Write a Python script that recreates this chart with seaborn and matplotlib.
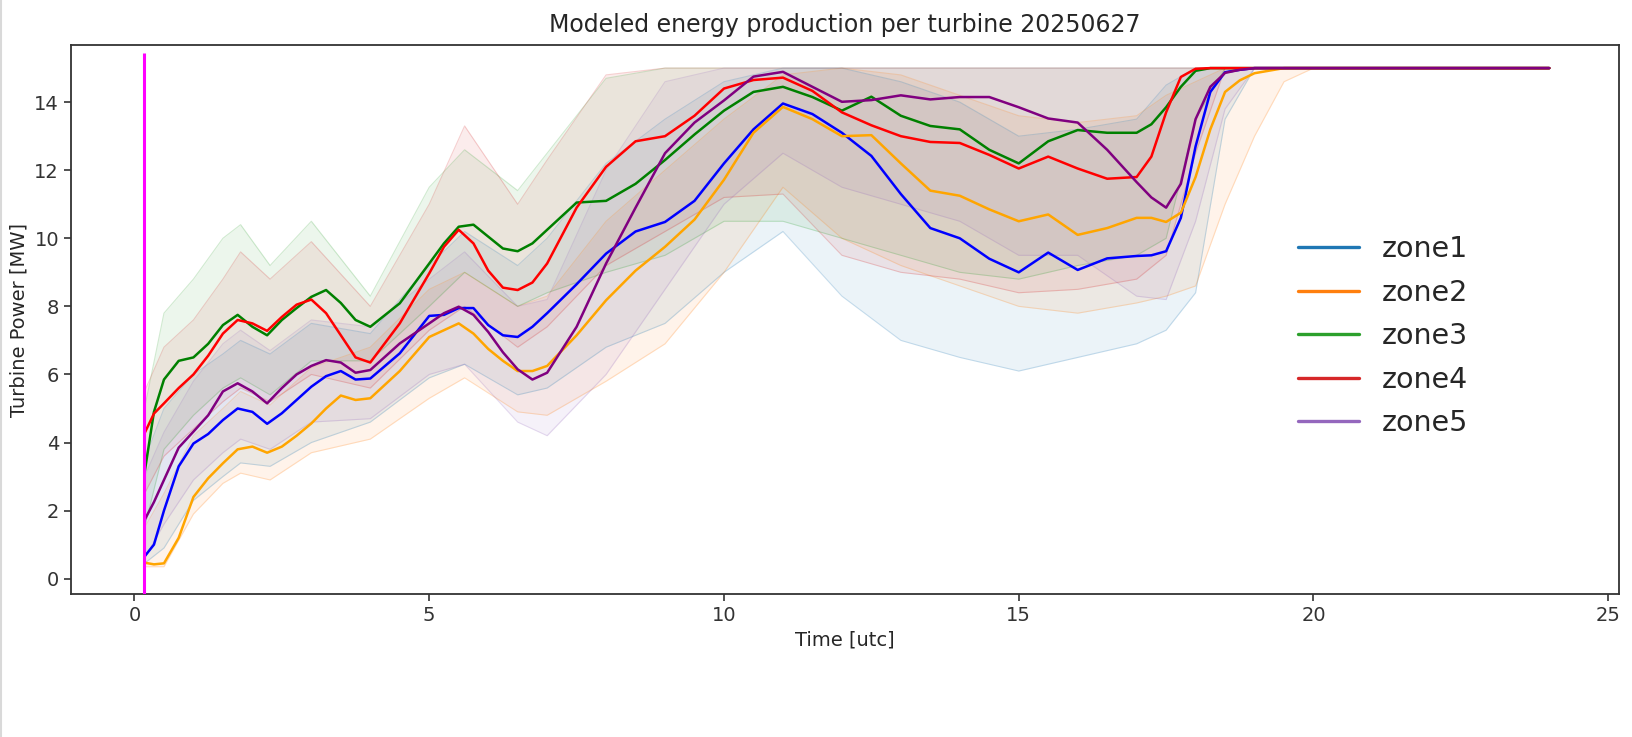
import numpy as np
import pandas as pd
import matplotlib
matplotlib.use("Agg")
import matplotlib.pyplot as plt
from matplotlib.lines import Line2D
import seaborn as sns

# ---- zone mean production [MW] vs time [h utc] ----
time_h = [0.17, 0.33, 0.5, 0.75, 1.0, 1.25, 1.5, 1.75, 2.0, 2.25, 2.5, 2.75,
          3.0, 3.25, 3.5, 3.75, 4.0, 4.5, 5.0, 5.25, 5.5, 5.75, 6.0, 6.25,
          6.5, 6.75, 7.0, 7.5, 8.0, 8.5, 9.0, 9.5, 10.0, 10.5, 11.0, 11.5,
          12.0, 12.5, 13.0, 13.5, 14.0, 14.5, 15.0, 15.5, 16.0, 16.5, 17.0,
          17.25, 17.5, 17.75, 18.0, 18.25, 18.5, 18.75, 19.0, 19.5, 24.0]

zone1_mean = [0.65, 1.0, 2.0, 3.3, 3.97, 4.25, 4.66, 5.0, 4.9, 4.55, 4.86, 5.25,
              5.64, 5.95, 6.1, 5.85, 5.88, 6.62, 7.72, 7.75, 7.95, 7.95, 7.45, 7.15,
              7.1, 7.4, 7.8, 8.65, 9.55, 10.2, 10.48, 11.1, 12.2, 13.2, 13.96, 13.65,
              13.1, 12.42, 11.3, 10.3, 10.0, 9.4, 9.0, 9.58, 9.07, 9.41, 9.48,
              9.5, 9.62, 10.6, 12.7, 14.3, 14.88, 14.95, 15.0, 15.0, 15.0]

zone2_mean = [0.47, 0.42, 0.45, 1.2, 2.4, 2.95, 3.39, 3.8, 3.88, 3.7, 3.88, 4.2,
              4.56, 5.0, 5.38, 5.25, 5.3, 6.1, 7.1, 7.3, 7.5, 7.2, 6.75, 6.4,
              6.1, 6.1, 6.25, 7.15, 8.18, 9.05, 9.75, 10.55, 11.72, 13.1, 13.86, 13.5,
              13.0, 13.03, 12.2, 11.4, 11.25, 10.85, 10.5, 10.7, 10.1, 10.3, 10.6,
              10.6, 10.48, 10.75, 11.8, 13.2, 14.3, 14.64, 14.85, 15.0, 15.0]

zone3_mean = [3.1, 4.9, 5.85, 6.4, 6.5, 6.9, 7.45, 7.75, 7.4, 7.15, 7.6, 7.95,
              8.28, 8.48, 8.1, 7.6, 7.4, 8.09, 9.26, 9.85, 10.34, 10.4, 10.05, 9.7,
              9.62, 9.85, 10.25, 11.05, 11.1, 11.6, 12.3, 13.05, 13.75, 14.3, 14.45, 14.15,
              13.75, 14.16, 13.6, 13.3, 13.2, 12.6, 12.2, 12.85, 13.18, 13.1, 13.1,
              13.35, 13.85, 14.45, 14.92, 15.0, 15.0, 15.0, 15.0, 15.0, 15.0]

zone4_mean = [4.27, 4.85, 5.15, 5.6, 6.0, 6.55, 7.2, 7.6, 7.5, 7.28, 7.69, 8.05,
              8.2, 7.8, 7.15, 6.5, 6.35, 7.5, 8.97, 9.75, 10.25, 9.85, 9.05, 8.55,
              8.48, 8.7, 9.26, 10.9, 12.1, 12.85, 13.0, 13.6, 14.4, 14.65, 14.72, 14.33,
              13.7, 13.32, 13.0, 12.83, 12.8, 12.45, 12.05, 12.4, 12.05, 11.75, 11.8,
              12.4, 13.7, 14.74, 14.98, 15.0, 15.0, 15.0, 15.0, 15.0, 15.0]

zone5_mean = [1.72, 2.25, 2.9, 3.85, 4.32, 4.8, 5.5, 5.74, 5.5, 5.15, 5.6, 6.0,
              6.25, 6.42, 6.35, 6.05, 6.13, 6.91, 7.5, 7.8, 7.99, 7.75, 7.25, 6.65,
              6.15, 5.85, 6.05, 7.4, 9.26, 10.9, 12.5, 13.4, 14.05, 14.75, 14.89, 14.45,
              14.01, 14.06, 14.2, 14.08, 14.15, 14.15, 13.85, 13.52, 13.4, 12.6, 11.65,
              11.2, 10.9, 11.6, 13.5, 14.45, 14.86, 14.95, 15.0, 15.0, 15.0]

# ---- spread of the individual turbines in each zone (min / max) ----
band_time_h = [0.17, 0.5, 1.0, 1.5, 1.8, 2.3, 3.0, 4.0, 5.0, 5.6, 6.5, 7.0, 8.0,
               9.0, 10.0, 11.0, 12.0, 13.0, 14.0, 15.0, 16.0, 17.0, 17.5, 18.0,
               18.5, 19.0, 19.5, 20.0, 24.0]

zone1_lo = [0.45, 0.9, 2.3, 3.0, 3.4, 3.3, 4.0, 4.6, 5.9, 6.3, 5.4, 5.6, 6.8,
            7.5, 9.0, 10.2, 8.3, 7.0, 6.5, 6.1, 6.5, 6.9, 7.3, 8.4,
            13.5, 15.0, 15.0, 15.0, 15.0]
zone1_hi = [3.5, 5.0, 6.0, 6.6, 7.0, 6.6, 7.5, 7.2, 9.2, 10.2, 9.2, 10.0, 12.2,
            13.5, 14.6, 15.0, 15.0, 14.6, 14.0, 13.0, 13.2, 13.5, 14.5, 15.0,
            15.0, 15.0, 15.0, 15.0, 15.0]

zone2_lo = [0.35, 0.35, 1.9, 2.8, 3.1, 2.9, 3.7, 4.1, 5.3, 5.9, 4.9, 4.8, 5.8,
            6.9, 9.0, 11.5, 10.0, 9.2, 8.6, 8.0, 7.8, 8.1, 8.3, 8.6,
            11.0, 13.0, 14.6, 15.0, 15.0]
zone2_hi = [1.5, 2.5, 4.2, 5.0, 5.5, 5.1, 6.2, 6.8, 8.5, 9.0, 8.0, 8.3, 10.5,
            12.0, 13.5, 14.8, 15.0, 14.8, 14.2, 13.6, 13.4, 13.6, 14.2, 14.6,
            15.0, 15.0, 15.0, 15.0, 15.0]

zone3_lo = [1.5, 3.8, 4.8, 5.6, 5.9, 5.4, 6.4, 6.4, 8.0, 9.0, 8.0, 8.4, 9.0,
            9.5, 10.5, 10.5, 10.0, 9.5, 9.0, 8.8, 9.2, 9.5, 10.0, 13.5,
            15.0, 15.0, 15.0, 15.0, 15.0]
zone3_hi = [5.0, 7.8, 8.8, 10.0, 10.4, 9.2, 10.5, 8.3, 11.5, 12.6, 11.4, 12.5, 14.7,
            15.0, 15.0, 15.0, 15.0, 15.0, 15.0, 15.0, 15.0, 15.0, 15.0, 15.0,
            15.0, 15.0, 15.0, 15.0, 15.0]

zone4_lo = [2.5, 3.6, 4.4, 5.2, 5.6, 5.2, 6.0, 5.6, 7.3, 8.0, 6.8, 7.4, 9.2,
            10.2, 11.2, 11.3, 9.5, 9.0, 8.8, 8.4, 8.5, 8.8, 9.5, 12.5,
            15.0, 15.0, 15.0, 15.0, 15.0]
zone4_hi = [5.5, 6.8, 7.6, 8.8, 9.6, 8.8, 9.9, 8.0, 11.0, 13.3, 11.0, 12.3, 14.8,
            15.0, 15.0, 15.0, 15.0, 15.0, 15.0, 15.0, 15.0, 15.0, 15.0, 15.0,
            15.0, 15.0, 15.0, 15.0, 15.0]

zone5_lo = [0.6, 1.6, 2.9, 3.7, 4.1, 3.8, 4.6, 4.7, 6.0, 6.3, 4.6, 4.2, 6.0,
            8.5, 11.0, 12.5, 11.5, 11.0, 10.5, 9.5, 9.5, 8.3, 8.2, 10.5,
            13.8, 15.0, 15.0, 15.0, 15.0]
zone5_hi = [3.0, 4.3, 5.8, 6.9, 7.3, 6.7, 7.6, 7.4, 8.8, 9.6, 8.0, 8.2, 12.0,
            14.6, 15.0, 15.0, 15.0, 15.0, 15.0, 15.0, 15.0, 15.0, 15.0, 15.0,
            15.0, 15.0, 15.0, 15.0, 15.0]

zones = ["zone1", "zone2", "zone3", "zone4", "zone5"]
means = [zone1_mean, zone2_mean, zone3_mean, zone4_mean, zone5_mean]
lows = [zone1_lo, zone2_lo, zone3_lo, zone4_lo, zone5_lo]
highs = [zone1_hi, zone2_hi, zone3_hi, zone4_hi, zone5_hi]

forecast_start = 1 / 6
title = "Modeled energy production per turbine 20250627"

turbine_colors = ["tab:blue", "tab:orange", "tab:green", "tab:red", "tab:purple"]
mean_colors = ["blue", "orange", "green", "red", "purple"]

sns.set_theme(style="ticks")
plt.rcParams["font.family"] = ["DejaVu Sans"]
plt.rcParams["axes.edgecolor"] = "#333333"
plt.rcParams["xtick.color"] = "#333333"
plt.rcParams["ytick.color"] = "#333333"

fig = plt.figure(figsize=(16.32, 7.37), dpi=100)
ax = fig.add_axes([0.0434, 0.1936, 0.9489, 0.7454])

# turbine spread per zone
for col, lo, hi in zip(turbine_colors, lows, highs):
    ax.fill_between(band_time_h, lo, hi, color=col, alpha=0.085, lw=0)
    ax.plot(band_time_h, lo, color=col, alpha=0.22, lw=0.8)
    ax.plot(band_time_h, hi, color=col, alpha=0.22, lw=0.8)

# zone means
df = pd.concat(
    [pd.DataFrame({"time": time_h, "power": m, "zone": z}) for z, m in zip(zones, means)],
    ignore_index=True,
)
sns.lineplot(data=df, x="time", y="power", hue="zone",
             palette=dict(zip(zones, mean_colors)), lw=1.8,
             errorbar=None, legend=False, ax=ax)

ax.vlines(forecast_start, -0.46, 15.45, color="magenta", lw=2.2, zorder=5)

ax.set_xlim(-1.08, 25.19)
ax.set_ylim(-0.46, 15.68)
ax.set_xticks([0, 5, 10, 15, 20, 25])
ax.set_yticks([0, 2, 4, 6, 8, 10, 12, 14])
ax.tick_params(labelsize=14, length=5, width=1.2)
for s in ax.spines.values():
    s.set_linewidth(1.3)
ax.set_xlabel("Time [utc]", fontsize=14)
ax.set_ylabel("Turbine Power [MW]", fontsize=14)
ax.set_title(title, fontsize=17, pad=9)

handles = [Line2D([0], [0], color=c, lw=2.4) for c in turbine_colors]
ax.legend(handles, zones, loc="center left", bbox_to_anchor=(0.7756, 0.47),
          frameon=False, fontsize=20.5, handlelength=2.15, handletextpad=0.8,
          labelspacing=0.545)

# thin grey edge along the left border of the figure
fig.add_artist(Line2D([0.0008, 0.0008], [0, 1], transform=fig.transFigure,
                      color="#d9d9d9", lw=1.5))

fig.savefig("out.png", dpi=100)
